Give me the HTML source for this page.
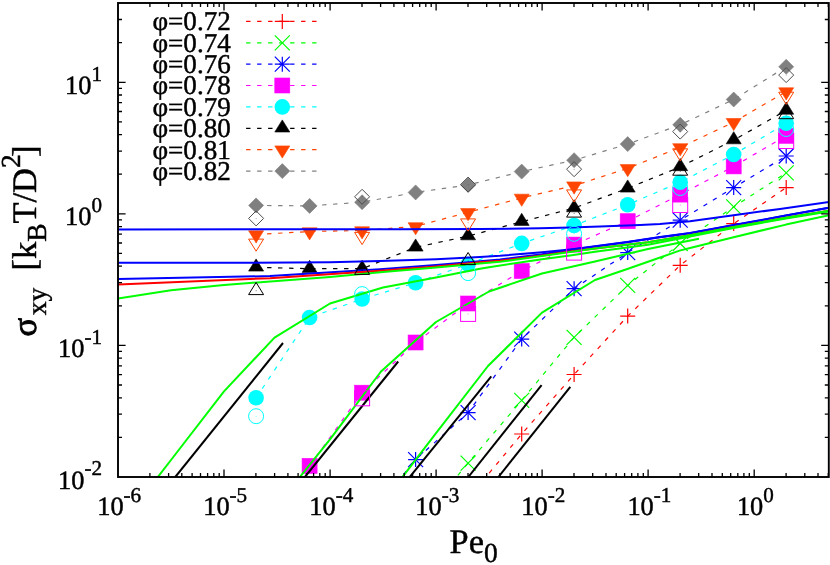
<!DOCTYPE html>
<html><head><meta charset="utf-8"><title>plot</title>
<style>html,body{margin:0;padding:0;background:#fff;}svg{display:block;will-change:transform;text-rendering:geometricPrecision;}text{font-family:"Liberation Serif",serif;fill:#000;stroke:#000;stroke-width:0.45px;}</style></head><body>
<svg width="830" height="565" viewBox="0 0 830 565">
<rect x="0" y="0" width="830" height="565" fill="#fff"/>
<defs><clipPath id="cp"><rect x="118.0" y="3.0" width="710.8" height="474.0"/></clipPath></defs>
<g clip-path="url(#cp)">
<path d="M468.1 498.5L521.7 434.0L574.1 374.5L627.7 316.1L680.2 265.3L733.7 223.6L786.2 187.6" fill="none" stroke="#ff0000" stroke-width="1.2" stroke-dasharray="4.4 6.6"/>
<path d="M460.6 498.5H475.6M468.1 491.0V506.0" stroke="#ff0000" stroke-width="1.2" fill="none"/>
<path d="M514.2 434.0H529.2M521.7 426.5V441.5" stroke="#ff0000" stroke-width="1.2" fill="none"/>
<path d="M566.6 374.5H581.6M574.1 367.0V382.0" stroke="#ff0000" stroke-width="1.2" fill="none"/>
<path d="M620.2 316.1H635.2M627.7 308.6V323.6" stroke="#ff0000" stroke-width="1.2" fill="none"/>
<path d="M672.7 265.3H687.7M680.2 257.8V272.8" stroke="#ff0000" stroke-width="1.2" fill="none"/>
<path d="M726.2 223.6H741.2M733.7 216.1V231.1" stroke="#ff0000" stroke-width="1.2" fill="none"/>
<path d="M778.7 187.6H793.7M786.2 180.1V195.1" stroke="#ff0000" stroke-width="1.2" fill="none"/>
<path d="M415.6 526.0L468.1 463.1L521.7 400.4L574.1 337.3L627.7 285.4L680.2 243.5L733.7 206.9L786.2 172.8" fill="none" stroke="#00ff00" stroke-width="1.2" stroke-dasharray="4.4 6.6"/>
<path d="M408.1 518.5L423.1 533.5M408.1 533.5L423.1 518.5" stroke="#00ff00" stroke-width="1.2" fill="none"/>
<path d="M460.6 455.6L475.6 470.6M460.6 470.6L475.6 455.6" stroke="#00ff00" stroke-width="1.2" fill="none"/>
<path d="M514.2 392.9L529.2 407.9M514.2 407.9L529.2 392.9" stroke="#00ff00" stroke-width="1.2" fill="none"/>
<path d="M566.6 329.8L581.6 344.8M566.6 344.8L581.6 329.8" stroke="#00ff00" stroke-width="1.2" fill="none"/>
<path d="M620.2 277.9L635.2 292.9M620.2 292.9L635.2 277.9" stroke="#00ff00" stroke-width="1.2" fill="none"/>
<path d="M672.7 236.0L687.7 251.0M672.7 251.0L687.7 236.0" stroke="#00ff00" stroke-width="1.2" fill="none"/>
<path d="M726.2 199.4L741.2 214.4M726.2 214.4L741.2 199.4" stroke="#00ff00" stroke-width="1.2" fill="none"/>
<path d="M778.7 165.3L793.7 180.3M778.7 180.3L793.7 165.3" stroke="#00ff00" stroke-width="1.2" fill="none"/>
<path d="M362.1 526.0L415.6 459.6L468.1 412.6L521.7 339.1L574.1 288.7L627.7 252.6L680.2 220.2L733.7 187.6L786.2 156.0" fill="none" stroke="#0000ff" stroke-width="1.2" stroke-dasharray="4.4 6.6"/>
<path d="M354.6 526.0H369.6M362.1 518.5V533.5" stroke="#0000ff" stroke-width="1.2" fill="none"/><path d="M354.6 518.5L369.6 533.5M354.6 533.5L369.6 518.5" stroke="#0000ff" stroke-width="1.2" fill="none"/>
<path d="M408.1 459.6H423.1M415.6 452.1V467.1" stroke="#0000ff" stroke-width="1.2" fill="none"/><path d="M408.1 452.1L423.1 467.1M408.1 467.1L423.1 452.1" stroke="#0000ff" stroke-width="1.2" fill="none"/>
<path d="M460.6 412.6H475.6M468.1 405.1V420.1" stroke="#0000ff" stroke-width="1.2" fill="none"/><path d="M460.6 405.1L475.6 420.1M460.6 420.1L475.6 405.1" stroke="#0000ff" stroke-width="1.2" fill="none"/>
<path d="M514.2 339.1H529.2M521.7 331.6V346.6" stroke="#0000ff" stroke-width="1.2" fill="none"/><path d="M514.2 331.6L529.2 346.6M514.2 346.6L529.2 331.6" stroke="#0000ff" stroke-width="1.2" fill="none"/>
<path d="M566.6 288.7H581.6M574.1 281.2V296.2" stroke="#0000ff" stroke-width="1.2" fill="none"/><path d="M566.6 281.2L581.6 296.2M566.6 296.2L581.6 281.2" stroke="#0000ff" stroke-width="1.2" fill="none"/>
<path d="M620.2 252.6H635.2M627.7 245.1V260.1" stroke="#0000ff" stroke-width="1.2" fill="none"/><path d="M620.2 245.1L635.2 260.1M620.2 260.1L635.2 245.1" stroke="#0000ff" stroke-width="1.2" fill="none"/>
<path d="M672.7 220.2H687.7M680.2 212.7V227.7" stroke="#0000ff" stroke-width="1.2" fill="none"/><path d="M672.7 212.7L687.7 227.7M672.7 227.7L687.7 212.7" stroke="#0000ff" stroke-width="1.2" fill="none"/>
<path d="M726.2 187.6H741.2M733.7 180.1V195.1" stroke="#0000ff" stroke-width="1.2" fill="none"/><path d="M726.2 180.1L741.2 195.1M726.2 195.1L741.2 180.1" stroke="#0000ff" stroke-width="1.2" fill="none"/>
<path d="M778.7 156.0H793.7M786.2 148.5V163.5" stroke="#0000ff" stroke-width="1.2" fill="none"/><path d="M778.7 148.5L793.7 163.5M778.7 163.5L793.7 148.5" stroke="#0000ff" stroke-width="1.2" fill="none"/>
<path d="M309.6 465.9L362.1 392.7L415.6 342.5L468.1 303.5L521.7 271.0L574.1 244.6L627.7 221.2L680.2 194.6L733.7 166.4L786.2 135.8" fill="none" stroke="#ff00ff" stroke-width="1.2" stroke-dasharray="4.4 6.6"/>
<rect x="302.1" y="458.4" width="15.0" height="15.0" fill="#ff00ff" stroke="#ff00ff" stroke-width="0.6"/>
<rect x="354.6" y="385.2" width="15.0" height="15.0" fill="#ff00ff" stroke="#ff00ff" stroke-width="0.6"/>
<rect x="408.1" y="335.0" width="15.0" height="15.0" fill="#ff00ff" stroke="#ff00ff" stroke-width="0.6"/>
<rect x="460.6" y="296.0" width="15.0" height="15.0" fill="#ff00ff" stroke="#ff00ff" stroke-width="0.6"/>
<rect x="514.2" y="263.5" width="15.0" height="15.0" fill="#ff00ff" stroke="#ff00ff" stroke-width="0.6"/>
<rect x="566.6" y="237.1" width="15.0" height="15.0" fill="#ff00ff" stroke="#ff00ff" stroke-width="0.6"/>
<rect x="620.2" y="213.7" width="15.0" height="15.0" fill="#ff00ff" stroke="#ff00ff" stroke-width="0.6"/>
<rect x="672.7" y="187.1" width="15.0" height="15.0" fill="#ff00ff" stroke="#ff00ff" stroke-width="0.6"/>
<rect x="726.2" y="158.9" width="15.0" height="15.0" fill="#ff00ff" stroke="#ff00ff" stroke-width="0.6"/>
<rect x="778.7" y="128.3" width="15.0" height="15.0" fill="#ff00ff" stroke="#ff00ff" stroke-width="0.6"/>
<path d="M256.1 397.8L309.6 317.5L362.1 299.0L415.6 282.8L468.1 264.2L521.7 243.4L574.1 225.5L627.7 204.7L680.2 182.2L733.7 154.5L786.2 123.3" fill="none" stroke="#00ffff" stroke-width="1.2" stroke-dasharray="4.4 6.6"/>
<circle cx="256.1" cy="397.8" r="7.8" fill="#00ffff"/>
<circle cx="309.6" cy="317.5" r="7.8" fill="#00ffff"/>
<circle cx="362.1" cy="299.0" r="7.8" fill="#00ffff"/>
<circle cx="415.6" cy="282.8" r="7.8" fill="#00ffff"/>
<circle cx="468.1" cy="264.2" r="7.8" fill="#00ffff"/>
<circle cx="521.7" cy="243.4" r="7.8" fill="#00ffff"/>
<circle cx="574.1" cy="225.5" r="7.8" fill="#00ffff"/>
<circle cx="627.7" cy="204.7" r="7.8" fill="#00ffff"/>
<circle cx="680.2" cy="182.2" r="7.8" fill="#00ffff"/>
<circle cx="733.7" cy="154.5" r="7.8" fill="#00ffff"/>
<circle cx="786.2" cy="123.3" r="7.8" fill="#00ffff"/>
<path d="M256.1 267.3L309.6 268.7L362.1 268.7L415.6 247.3L468.1 236.1L521.7 221.7L574.1 208.1L627.7 188.3L680.2 166.9L733.7 140.1L786.2 110.4" fill="none" stroke="#000000" stroke-width="1.2" stroke-dasharray="4.4 6.6"/>
<path d="M256.1 258.9L248.6 271.1L263.6 271.1Z" fill="#000000" stroke="#000000" stroke-width="0.6"/>
<path d="M309.6 260.3L302.1 272.4L317.1 272.4Z" fill="#000000" stroke="#000000" stroke-width="0.6"/>
<path d="M362.1 260.3L354.6 272.4L369.6 272.4Z" fill="#000000" stroke="#000000" stroke-width="0.6"/>
<path d="M415.6 238.9L408.1 251.1L423.1 251.1Z" fill="#000000" stroke="#000000" stroke-width="0.6"/>
<path d="M468.1 227.7L460.6 239.8L475.6 239.8Z" fill="#000000" stroke="#000000" stroke-width="0.6"/>
<path d="M521.7 213.3L514.2 225.4L529.2 225.4Z" fill="#000000" stroke="#000000" stroke-width="0.6"/>
<path d="M574.1 199.7L566.6 211.8L581.6 211.8Z" fill="#000000" stroke="#000000" stroke-width="0.6"/>
<path d="M627.7 179.9L620.2 192.1L635.2 192.1Z" fill="#000000" stroke="#000000" stroke-width="0.6"/>
<path d="M680.2 158.5L672.7 170.7L687.7 170.7Z" fill="#000000" stroke="#000000" stroke-width="0.6"/>
<path d="M733.7 131.7L726.2 143.8L741.2 143.8Z" fill="#000000" stroke="#000000" stroke-width="0.6"/>
<path d="M786.2 102.0L778.7 114.2L793.7 114.2Z" fill="#000000" stroke="#000000" stroke-width="0.6"/>
<path d="M256.1 234.5L309.6 231.5L362.1 230.5L415.6 226.4L468.1 212.3L521.7 197.9L574.1 185.7L627.7 168.3L680.2 147.4L733.7 122.2L786.2 91.5" fill="none" stroke="#ff4500" stroke-width="1.2" stroke-dasharray="4.4 6.6"/>
<path d="M256.1 242.9L248.6 230.8L263.6 230.8Z" fill="#ff4500" stroke="#ff4500" stroke-width="0.6"/>
<path d="M309.6 239.9L302.1 227.8L317.1 227.8Z" fill="#ff4500" stroke="#ff4500" stroke-width="0.6"/>
<path d="M362.1 238.9L354.6 226.8L369.6 226.8Z" fill="#ff4500" stroke="#ff4500" stroke-width="0.6"/>
<path d="M415.6 234.8L408.1 222.7L423.1 222.7Z" fill="#ff4500" stroke="#ff4500" stroke-width="0.6"/>
<path d="M468.1 220.7L460.6 208.6L475.6 208.6Z" fill="#ff4500" stroke="#ff4500" stroke-width="0.6"/>
<path d="M521.7 206.3L514.2 194.2L529.2 194.2Z" fill="#ff4500" stroke="#ff4500" stroke-width="0.6"/>
<path d="M574.1 194.1L566.6 181.9L581.6 181.9Z" fill="#ff4500" stroke="#ff4500" stroke-width="0.6"/>
<path d="M627.7 176.7L620.2 164.6L635.2 164.6Z" fill="#ff4500" stroke="#ff4500" stroke-width="0.6"/>
<path d="M680.2 155.8L672.7 143.7L687.7 143.7Z" fill="#ff4500" stroke="#ff4500" stroke-width="0.6"/>
<path d="M733.7 130.6L726.2 118.5L741.2 118.5Z" fill="#ff4500" stroke="#ff4500" stroke-width="0.6"/>
<path d="M786.2 99.9L778.7 87.8L793.7 87.8Z" fill="#ff4500" stroke="#ff4500" stroke-width="0.6"/>
<path d="M256.1 205.4L309.6 205.9L362.1 202.2L415.6 192.4L468.1 185.0L521.7 171.6L574.1 160.2L627.7 144.1L680.2 124.8L733.7 99.5L786.2 66.8" fill="none" stroke="#808080" stroke-width="1.2" stroke-dasharray="4.4 6.6"/>
<path d="M256.1 197.9L263.6 205.4L256.1 212.9L248.6 205.4Z" fill="#808080" stroke="#808080" stroke-width="0.6"/>
<path d="M309.6 198.4L317.1 205.9L309.6 213.4L302.1 205.9Z" fill="#808080" stroke="#808080" stroke-width="0.6"/>
<path d="M362.1 194.7L369.6 202.2L362.1 209.7L354.6 202.2Z" fill="#808080" stroke="#808080" stroke-width="0.6"/>
<path d="M415.6 184.9L423.1 192.4L415.6 199.9L408.1 192.4Z" fill="#808080" stroke="#808080" stroke-width="0.6"/>
<path d="M468.1 177.5L475.6 185.0L468.1 192.5L460.6 185.0Z" fill="#808080" stroke="#808080" stroke-width="0.6"/>
<path d="M521.7 164.1L529.2 171.6L521.7 179.1L514.2 171.6Z" fill="#808080" stroke="#808080" stroke-width="0.6"/>
<path d="M574.1 152.7L581.6 160.2L574.1 167.7L566.6 160.2Z" fill="#808080" stroke="#808080" stroke-width="0.6"/>
<path d="M627.7 136.6L635.2 144.1L627.7 151.6L620.2 144.1Z" fill="#808080" stroke="#808080" stroke-width="0.6"/>
<path d="M680.2 117.3L687.7 124.8L680.2 132.3L672.7 124.8Z" fill="#808080" stroke="#808080" stroke-width="0.6"/>
<path d="M733.7 92.0L741.2 99.5L733.7 107.0L726.2 99.5Z" fill="#808080" stroke="#808080" stroke-width="0.6"/>
<path d="M786.2 59.3L793.7 66.8L786.2 74.3L778.7 66.8Z" fill="#808080" stroke="#808080" stroke-width="0.6"/>
<path d="M118.0 229.5L400.0 229.2L480.0 229.0L540.0 228.3L570.0 227.6L600.0 226.6L640.0 225.0L660.0 223.9L690.0 221.2L733.6 215.3L780.0 208.9L829.0 202.1" fill="none" stroke="#0000ff" stroke-width="2.0" stroke-linejoin="round"/>
<path d="M118.0 262.8L224.0 262.8L330.0 262.3L380.0 261.1L436.0 259.3L480.0 257.0L500.0 255.8L542.0 252.2L570.0 249.4L580.0 248.2L627.0 242.0L660.0 237.0L690.0 233.0L733.6 225.1L786.0 215.5L829.0 207.7" fill="none" stroke="#0000ff" stroke-width="2.0" stroke-linejoin="round"/>
<path d="M118.0 279.0L270.0 276.1L380.0 269.3L436.0 265.0L480.0 261.2L500.0 259.6L542.0 254.2L570.0 249.9L580.0 248.6L627.0 242.2L660.0 237.2L690.0 233.2L733.6 225.3L786.0 215.6L829.0 207.8" fill="none" stroke="#0000ff" stroke-width="2.0" stroke-linejoin="round"/>
<path d="M118.0 284.4L270.0 278.2L380.0 270.8L436.0 266.4L480.0 262.3L500.0 260.8L542.0 255.4L570.0 251.6L595.0 248.4L648.0 242.2L690.0 235.2L733.6 227.1L786.0 217.8L829.0 210.8" fill="none" stroke="#ff0000" stroke-width="2.0" stroke-linejoin="round"/>
<path d="M381.5 504.4L434.5 435.2L488.0 366.0L542.0 312.6L595.0 280.0L627.3 269.0L648.0 261.8L679.6 250.6L690.0 248.0L733.6 237.2L786.0 224.6L829.0 215.3" fill="none" stroke="#00ff00" stroke-width="2.0" stroke-linejoin="round"/>
<path d="M277.0 505.7L330.0 439.3L381.0 371.5L436.0 322.0L489.0 291.5L542.0 273.5L595.0 261.5L648.0 249.0L699.0 238.7" fill="none" stroke="#00ff00" stroke-width="2.0" stroke-linejoin="round"/>
<path d="M118.0 528.5L171.0 460.0L224.0 391.4L274.5 337.6L330.0 303.5L383.0 287.5L436.0 277.5L480.0 268.7L489.0 267.2L542.0 259.2L570.0 255.5L595.0 251.8L648.0 244.8L690.0 236.6L733.6 228.0L786.0 218.4L829.0 211.4" fill="none" stroke="#00ff00" stroke-width="2.0" stroke-linejoin="round"/>
<path d="M118.0 298.5L171.0 290.2L224.0 285.0L277.0 281.0L330.0 277.0L383.0 272.0L436.0 267.6L480.0 263.4L500.0 261.8L542.0 256.0L570.0 252.0L595.0 248.6L648.0 242.3L690.0 235.2L733.6 227.1L786.0 217.8L829.0 210.8" fill="none" stroke="#00ff00" stroke-width="2.0" stroke-linejoin="round"/>
<path d="M175.3 477.0L283.0 343.0" fill="none" stroke="#000000" stroke-width="2.0" stroke-linejoin="round"/>
<path d="M304.9 477.0L398.2 361.5" fill="none" stroke="#000000" stroke-width="2.0" stroke-linejoin="round"/>
<path d="M400.0 489.0L491.3 376.3" fill="none" stroke="#000000" stroke-width="2.0" stroke-linejoin="round"/>
<path d="M468.3 477.0L541.6 385.1" fill="none" stroke="#000000" stroke-width="2.0" stroke-linejoin="round"/>
<path d="M498.4 477.0L570.3 386.9" fill="none" stroke="#000000" stroke-width="2.0" stroke-linejoin="round"/>
<rect x="354.6" y="390.8" width="15.0" height="15.0" fill="none" stroke="#ff00ff" stroke-width="1.0"/><circle cx="362.1" cy="398.3" r="0.45" fill="#ff00ff"/>
<rect x="460.6" y="306.4" width="15.0" height="15.0" fill="none" stroke="#ff00ff" stroke-width="1.0"/><circle cx="468.1" cy="313.9" r="0.45" fill="#ff00ff"/>
<rect x="566.6" y="245.1" width="15.0" height="15.0" fill="none" stroke="#ff00ff" stroke-width="1.0"/><circle cx="574.1" cy="252.6" r="0.45" fill="#ff00ff"/>
<rect x="672.7" y="197.5" width="15.0" height="15.0" fill="none" stroke="#ff00ff" stroke-width="1.0"/><circle cx="680.2" cy="205.0" r="0.45" fill="#ff00ff"/>
<rect x="778.7" y="133.5" width="15.0" height="15.0" fill="none" stroke="#ff00ff" stroke-width="1.0"/><circle cx="786.2" cy="141.0" r="0.45" fill="#ff00ff"/>
<circle cx="256.1" cy="416.2" r="7.5" fill="none" stroke="#00ffff" stroke-width="1.0"/><circle cx="256.1" cy="416.2" r="0.45" fill="#00ffff"/>
<circle cx="362.1" cy="294.1" r="7.5" fill="none" stroke="#00ffff" stroke-width="1.0"/><circle cx="362.1" cy="294.1" r="0.45" fill="#00ffff"/>
<circle cx="468.1" cy="273.1" r="7.5" fill="none" stroke="#00ffff" stroke-width="1.0"/><circle cx="468.1" cy="273.1" r="0.45" fill="#00ffff"/>
<circle cx="574.1" cy="233.8" r="7.5" fill="none" stroke="#00ffff" stroke-width="1.0"/><circle cx="574.1" cy="233.8" r="0.45" fill="#00ffff"/>
<circle cx="680.2" cy="188.0" r="7.5" fill="none" stroke="#00ffff" stroke-width="1.0"/><circle cx="680.2" cy="188.0" r="0.45" fill="#00ffff"/>
<circle cx="786.2" cy="129.0" r="7.5" fill="none" stroke="#00ffff" stroke-width="1.0"/><circle cx="786.2" cy="129.0" r="0.45" fill="#00ffff"/>
<path d="M256.1 282.4L248.6 294.6L263.6 294.6Z" fill="none" stroke="#000000" stroke-width="1.0"/><circle cx="256.1" cy="290.8" r="0.45" fill="#000000"/>
<path d="M362.1 262.2L354.6 274.4L369.6 274.4Z" fill="none" stroke="#000000" stroke-width="1.0"/><circle cx="362.1" cy="270.6" r="0.45" fill="#000000"/>
<path d="M468.1 252.5L460.6 264.6L475.6 264.6Z" fill="none" stroke="#000000" stroke-width="1.0"/><circle cx="468.1" cy="260.9" r="0.45" fill="#000000"/>
<path d="M574.1 204.9L566.6 217.1L581.6 217.1Z" fill="none" stroke="#000000" stroke-width="1.0"/><circle cx="574.1" cy="213.3" r="0.45" fill="#000000"/>
<path d="M680.2 163.0L672.7 175.2L687.7 175.2Z" fill="none" stroke="#000000" stroke-width="1.0"/><circle cx="680.2" cy="171.4" r="0.45" fill="#000000"/>
<path d="M786.2 106.5L778.7 118.7L793.7 118.7Z" fill="none" stroke="#000000" stroke-width="1.0"/><circle cx="786.2" cy="114.9" r="0.45" fill="#000000"/>
<path d="M256.1 251.2L248.6 239.1L263.6 239.1Z" fill="none" stroke="#ff4500" stroke-width="1.0"/><circle cx="256.1" cy="242.8" r="0.45" fill="#ff4500"/>
<path d="M362.1 244.6L354.6 232.4L369.6 232.4Z" fill="none" stroke="#ff4500" stroke-width="1.0"/><circle cx="362.1" cy="236.2" r="0.45" fill="#ff4500"/>
<path d="M468.1 231.1L460.6 218.9L475.6 218.9Z" fill="none" stroke="#ff4500" stroke-width="1.0"/><circle cx="468.1" cy="222.7" r="0.45" fill="#ff4500"/>
<path d="M574.1 202.1L566.6 189.9L581.6 189.9Z" fill="none" stroke="#ff4500" stroke-width="1.0"/><circle cx="574.1" cy="193.7" r="0.45" fill="#ff4500"/>
<path d="M680.2 160.9L672.7 148.8L687.7 148.8Z" fill="none" stroke="#ff4500" stroke-width="1.0"/><circle cx="680.2" cy="152.5" r="0.45" fill="#ff4500"/>
<path d="M786.2 104.4L778.7 92.2L793.7 92.2Z" fill="none" stroke="#ff4500" stroke-width="1.0"/><circle cx="786.2" cy="96.0" r="0.45" fill="#ff4500"/>
<path d="M256.1 210.9L263.6 218.4L256.1 225.9L248.6 218.4Z" fill="none" stroke="#4d4d4d" stroke-width="1.0"/><circle cx="256.1" cy="218.4" r="0.45" fill="#4d4d4d"/>
<path d="M362.1 189.3L369.6 196.8L362.1 204.3L354.6 196.8Z" fill="none" stroke="#4d4d4d" stroke-width="1.0"/><circle cx="362.1" cy="196.8" r="0.45" fill="#4d4d4d"/>
<path d="M468.1 177.1L475.6 184.6L468.1 192.1L460.6 184.6Z" fill="none" stroke="#4d4d4d" stroke-width="1.0"/><circle cx="468.1" cy="184.6" r="0.45" fill="#4d4d4d"/>
<path d="M574.1 161.7L581.6 169.2L574.1 176.7L566.6 169.2Z" fill="none" stroke="#4d4d4d" stroke-width="1.0"/><circle cx="574.1" cy="169.2" r="0.45" fill="#4d4d4d"/>
<path d="M680.2 124.1L687.7 131.6L680.2 139.1L672.7 131.6Z" fill="none" stroke="#4d4d4d" stroke-width="1.0"/><circle cx="680.2" cy="131.6" r="0.45" fill="#4d4d4d"/>
<path d="M786.2 67.6L793.7 75.1L786.2 82.6L778.7 75.1Z" fill="none" stroke="#4d4d4d" stroke-width="1.0"/><circle cx="786.2" cy="75.1" r="0.45" fill="#4d4d4d"/>
</g>
<path d="M246.1 21.4H316.6" stroke="#ff0000" stroke-width="1.2" stroke-dasharray="4.4 6.6" fill="none"/>
<path d="M274.8 21.4H289.8M282.3 13.9V28.9" stroke="#ff0000" stroke-width="1.2" fill="none"/>
<text x="230.8" y="30.3" font-size="27.1" text-anchor="end">φ=0.72</text>
<path d="M246.1 42.8H316.6" stroke="#00ff00" stroke-width="1.2" stroke-dasharray="4.4 6.6" fill="none"/>
<path d="M274.8 35.3L289.8 50.3M274.8 50.3L289.8 35.3" stroke="#00ff00" stroke-width="1.2" fill="none"/>
<text x="230.8" y="51.7" font-size="27.1" text-anchor="end">φ=0.74</text>
<path d="M246.1 64.2H316.6" stroke="#0000ff" stroke-width="1.2" stroke-dasharray="4.4 6.6" fill="none"/>
<path d="M274.8 64.2H289.8M282.3 56.7V71.7" stroke="#0000ff" stroke-width="1.2" fill="none"/><path d="M274.8 56.7L289.8 71.7M274.8 71.7L289.8 56.7" stroke="#0000ff" stroke-width="1.2" fill="none"/>
<text x="230.8" y="73.1" font-size="27.1" text-anchor="end">φ=0.76</text>
<path d="M246.1 85.5H316.6" stroke="#ff00ff" stroke-width="1.2" stroke-dasharray="4.4 6.6" fill="none"/>
<rect x="274.8" y="78.0" width="15.0" height="15.0" fill="#ff00ff" stroke="#ff00ff" stroke-width="0.6"/>
<text x="230.8" y="94.4" font-size="27.1" text-anchor="end">φ=0.78</text>
<path d="M246.1 106.9H316.6" stroke="#00ffff" stroke-width="1.2" stroke-dasharray="4.4 6.6" fill="none"/>
<circle cx="282.3" cy="106.9" r="7.8" fill="#00ffff"/>
<text x="230.8" y="115.8" font-size="27.1" text-anchor="end">φ=0.79</text>
<path d="M246.1 128.3H316.6" stroke="#000000" stroke-width="1.2" stroke-dasharray="4.4 6.6" fill="none"/>
<path d="M282.3 119.9L274.8 132.0L289.8 132.0Z" fill="#000000" stroke="#000000" stroke-width="0.6"/>
<text x="230.8" y="137.2" font-size="27.1" text-anchor="end">φ=0.80</text>
<path d="M246.1 149.7H316.6" stroke="#ff4500" stroke-width="1.2" stroke-dasharray="4.4 6.6" fill="none"/>
<path d="M282.3 158.1L274.8 145.9L289.8 145.9Z" fill="#ff4500" stroke="#ff4500" stroke-width="0.6"/>
<text x="230.8" y="158.6" font-size="27.1" text-anchor="end">φ=0.81</text>
<path d="M246.1 171.1H316.6" stroke="#808080" stroke-width="1.2" stroke-dasharray="4.4 6.6" fill="none"/>
<path d="M282.3 163.6L289.8 171.1L282.3 178.6L274.8 171.1Z" fill="#808080" stroke="#808080" stroke-width="0.6"/>
<text x="230.8" y="180.0" font-size="27.1" text-anchor="end">φ=0.82</text>
<path d="M149.9 477.0V473.0M149.9 3.0V7.0M168.6 477.0V473.0M168.6 3.0V7.0M181.8 477.0V473.0M181.8 3.0V7.0M192.1 477.0V473.0M192.1 3.0V7.0M200.5 477.0V473.0M200.5 3.0V7.0M207.6 477.0V473.0M207.6 3.0V7.0M213.8 477.0V473.0M213.8 3.0V7.0M219.2 477.0V473.0M219.2 3.0V7.0M224.0 477.0V469.4M224.0 3.0V10.6M255.9 477.0V473.0M255.9 3.0V7.0M274.6 477.0V473.0M274.6 3.0V7.0M287.9 477.0V473.0M287.9 3.0V7.0M298.1 477.0V473.0M298.1 3.0V7.0M306.5 477.0V473.0M306.5 3.0V7.0M313.6 477.0V473.0M313.6 3.0V7.0M319.8 477.0V473.0M319.8 3.0V7.0M325.2 477.0V473.0M325.2 3.0V7.0M330.1 477.0V469.4M330.1 3.0V10.6M362.0 477.0V473.0M362.0 3.0V7.0M380.6 477.0V473.0M380.6 3.0V7.0M393.9 477.0V473.0M393.9 3.0V7.0M404.2 477.0V473.0M404.2 3.0V7.0M412.6 477.0V473.0M412.6 3.0V7.0M419.7 477.0V473.0M419.7 3.0V7.0M425.8 477.0V473.0M425.8 3.0V7.0M431.2 477.0V473.0M431.2 3.0V7.0M436.1 477.0V469.4M436.1 3.0V10.6M468.0 477.0V473.0M468.0 3.0V7.0M486.7 477.0V473.0M486.7 3.0V7.0M499.9 477.0V473.0M499.9 3.0V7.0M510.2 477.0V473.0M510.2 3.0V7.0M518.6 477.0V473.0M518.6 3.0V7.0M525.7 477.0V473.0M525.7 3.0V7.0M531.8 477.0V473.0M531.8 3.0V7.0M537.3 477.0V473.0M537.3 3.0V7.0M542.1 477.0V469.4M542.1 3.0V10.6M574.0 477.0V473.0M574.0 3.0V7.0M592.7 477.0V473.0M592.7 3.0V7.0M606.0 477.0V473.0M606.0 3.0V7.0M616.2 477.0V473.0M616.2 3.0V7.0M624.6 477.0V473.0M624.6 3.0V7.0M631.7 477.0V473.0M631.7 3.0V7.0M637.9 477.0V473.0M637.9 3.0V7.0M643.3 477.0V473.0M643.3 3.0V7.0M648.1 477.0V469.4M648.1 3.0V10.6M680.1 477.0V473.0M680.1 3.0V7.0M698.7 477.0V473.0M698.7 3.0V7.0M712.0 477.0V473.0M712.0 3.0V7.0M722.3 477.0V473.0M722.3 3.0V7.0M730.7 477.0V473.0M730.7 3.0V7.0M737.8 477.0V473.0M737.8 3.0V7.0M743.9 477.0V473.0M743.9 3.0V7.0M749.3 477.0V473.0M749.3 3.0V7.0M754.2 477.0V469.4M754.2 3.0V10.6M786.1 477.0V473.0M786.1 3.0V7.0M804.8 477.0V473.0M804.8 3.0V7.0M818.0 477.0V473.0M818.0 3.0V7.0M828.3 477.0V473.0M828.3 3.0V7.0M118.0 437.4H122.0M828.8 437.4H824.8M118.0 414.2H122.0M828.8 414.2H824.8M118.0 397.8H122.0M828.8 397.8H824.8M118.0 385.0H122.0M828.8 385.0H824.8M118.0 374.6H122.0M828.8 374.6H824.8M118.0 365.8H122.0M828.8 365.8H824.8M118.0 358.2H122.0M828.8 358.2H824.8M118.0 351.4H122.0M828.8 351.4H824.8M118.0 345.4H125.6M828.8 345.4H821.2M118.0 305.8H122.0M828.8 305.8H824.8M118.0 282.6H122.0M828.8 282.6H824.8M118.0 266.2H122.0M828.8 266.2H824.8M118.0 253.4H122.0M828.8 253.4H824.8M118.0 243.0H122.0M828.8 243.0H824.8M118.0 234.2H122.0M828.8 234.2H824.8M118.0 226.6H122.0M828.8 226.6H824.8M118.0 219.9H122.0M828.8 219.9H824.8M118.0 213.8H125.6M828.8 213.8H821.2M118.0 174.2H122.0M828.8 174.2H824.8M118.0 151.1H122.0M828.8 151.1H824.8M118.0 134.6H122.0M828.8 134.6H824.8M118.0 121.9H122.0M828.8 121.9H824.8M118.0 111.5H122.0M828.8 111.5H824.8M118.0 102.6H122.0M828.8 102.6H824.8M118.0 95.0H122.0M828.8 95.0H824.8M118.0 88.3H122.0M828.8 88.3H824.8M118.0 82.3H125.6M828.8 82.3H821.2M118.0 42.7H122.0M828.8 42.7H824.8M118.0 19.5H122.0M828.8 19.5H824.8" stroke="#000" stroke-width="1.3" fill="none"/>
<rect x="118.0" y="3.0" width="710.8" height="474.0" fill="none" stroke="#000" stroke-width="1.9"/>
<text x="119.2" y="515.3" font-size="26.4" text-anchor="middle">10<tspan dy="-13.2" font-size="21.1">-6</tspan></text>
<text x="225.2" y="515.3" font-size="26.4" text-anchor="middle">10<tspan dy="-13.2" font-size="21.1">-5</tspan></text>
<text x="331.3" y="515.3" font-size="26.4" text-anchor="middle">10<tspan dy="-13.2" font-size="21.1">-4</tspan></text>
<text x="437.3" y="515.3" font-size="26.4" text-anchor="middle">10<tspan dy="-13.2" font-size="21.1">-3</tspan></text>
<text x="543.3" y="515.3" font-size="26.4" text-anchor="middle">10<tspan dy="-13.2" font-size="21.1">-2</tspan></text>
<text x="649.4" y="515.3" font-size="26.4" text-anchor="middle">10<tspan dy="-13.2" font-size="21.1">-1</tspan></text>
<text x="755.4" y="515.3" font-size="26.4" text-anchor="middle">10<tspan dy="-13.2" font-size="21.1">0</tspan></text>
<text x="102.0" y="488.5" font-size="26.4" text-anchor="end">10<tspan dy="-13.2" font-size="21.1">-2</tspan></text>
<text x="102.0" y="356.9" font-size="26.4" text-anchor="end">10<tspan dy="-13.2" font-size="21.1">-1</tspan></text>
<text x="102.0" y="225.3" font-size="26.4" text-anchor="end">10<tspan dy="-13.2" font-size="21.1">0</tspan></text>
<text x="102.0" y="93.8" font-size="26.4" text-anchor="end">10<tspan dy="-13.2" font-size="21.1">1</tspan></text>
<text x="449.6" y="553" stroke-width="0.2" font-size="34.4">Pe<tspan dy="9.3" font-size="27.5">0</tspan></text>
<g transform="translate(36.2,336.5) rotate(-90)"><text x="0" y="0" stroke-width="0.2" font-size="34.4" xml:space="preserve"><tspan stroke-width="0.9">σ</tspan><tspan dx="2.8" dy="9.3" font-size="27.5">xy</tspan><tspan dy="-9.3" font-size="34.4">  [k</tspan><tspan dy="9.3" font-size="27.5">B</tspan><tspan dy="-9.3" font-size="34.4">T/D</tspan><tspan dy="-16.5" font-size="27.5">2</tspan><tspan dx="-2.8" dy="16.5" font-size="34.4">]</tspan></text></g>
</svg></body></html>
